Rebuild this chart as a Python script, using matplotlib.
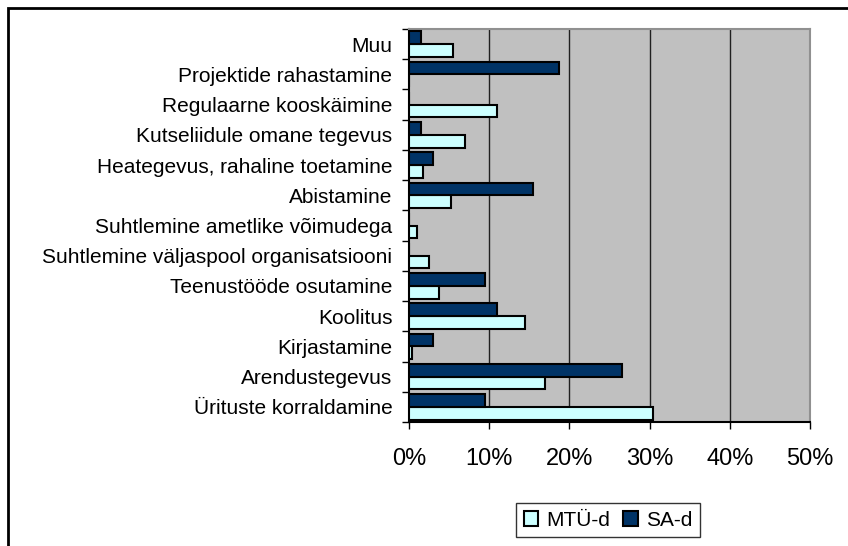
import numpy as np
import matplotlib.pyplot as plt
from matplotlib.patches import Rectangle

plt.rcParams['font.family'] = ['Liberation Sans', 'DejaVu Sans']

# bottom to top
categories = ['Ürituste korraldamine', 'Arendustegevus', 'Kirjastamine', 'Koolitus',
              'Teenustööde osutamine', 'Suhtlemine väljaspool organisatsiooni',
              'Suhtlemine ametlike võimudega', 'Abistamine', 'Heategevus, rahaline toetamine',
              'Kutseliidule omane tegevus', 'Regulaarne kooskäimine',
              'Projektide rahastamine', 'Muu']
mtu = [30.4, 16.9, 0.4, 14.5, 3.8, 2.5, 1.0, 5.2, 1.7, 7.0, 11.0, 0.0, 5.5]
sa = [9.5, 26.5, 2.95, 11.0, 9.5, 0.0, 0.0, 15.5, 2.95, 1.45, 0.0, 18.7, 1.45]
x_ticks = [0, 10, 20, 30, 40, 50]

fig = plt.figure(figsize=(8.48, 5.46), dpi=100)
ax = fig.add_axes([409 / 848, 1 - 422 / 546, (810 - 409) / 848, (422 - 29) / 546])
ax.set_facecolor('#C0C0C0')

y = np.arange(len(categories))
h = 0.42
ax.barh(y - h / 2, mtu, height=h, color='#CCFFFF', edgecolor='black', linewidth=1.5, label='MTÜ-d', zorder=3)
ax.barh(y + h / 2, sa, height=h, color='#003366', edgecolor='black', linewidth=1.5, label='SA-d', zorder=3)

ax.set_xlim(0, 50)
ax.set_ylim(-0.5, len(categories) - 0.5)
ax.set_xticks(x_ticks)
ax.set_xticklabels([f'{t}%' for t in x_ticks], fontsize=17)
ax.set_yticks(y)
ax.set_yticklabels(categories, fontsize=15)
ax.set_yticks(np.arange(-0.5, len(categories)), minor=True)
ax.tick_params(axis='y', which='major', length=0, pad=12)
ax.tick_params(axis='y', which='minor', length=5, width=1, color='black')
ax.tick_params(axis='x', length=5, width=1, pad=14)
for t in x_ticks[1:-1]:
    ax.axvline(t, color='#202020', linewidth=1, zorder=1)

ax.spines['left'].set_color('black')
ax.spines['bottom'].set_color('black')
ax.spines['top'].set_color('#909090')
ax.spines['right'].set_color('#909090')
for s in ax.spines.values():
    s.set_linewidth(1.5)

leg = ax.legend(loc='center', bbox_to_anchor=(608 / 848, 1 - 520 / 546), bbox_transform=fig.transFigure,
                ncol=2, fontsize=15, frameon=True, fancybox=False, edgecolor='black',
                handlelength=0.7, handleheight=0.7, handletextpad=0.4, columnspacing=0.6,
                borderpad=0.35)
leg.get_frame().set_linewidth(1)

fig.patches.append(Rectangle((8 / 848, -0.1), 1.2, 1 - 8 / 546 + 0.1, transform=fig.transFigure,
                             fill=False, edgecolor='black', linewidth=2))

plt.savefig('out.png', dpi=100)
